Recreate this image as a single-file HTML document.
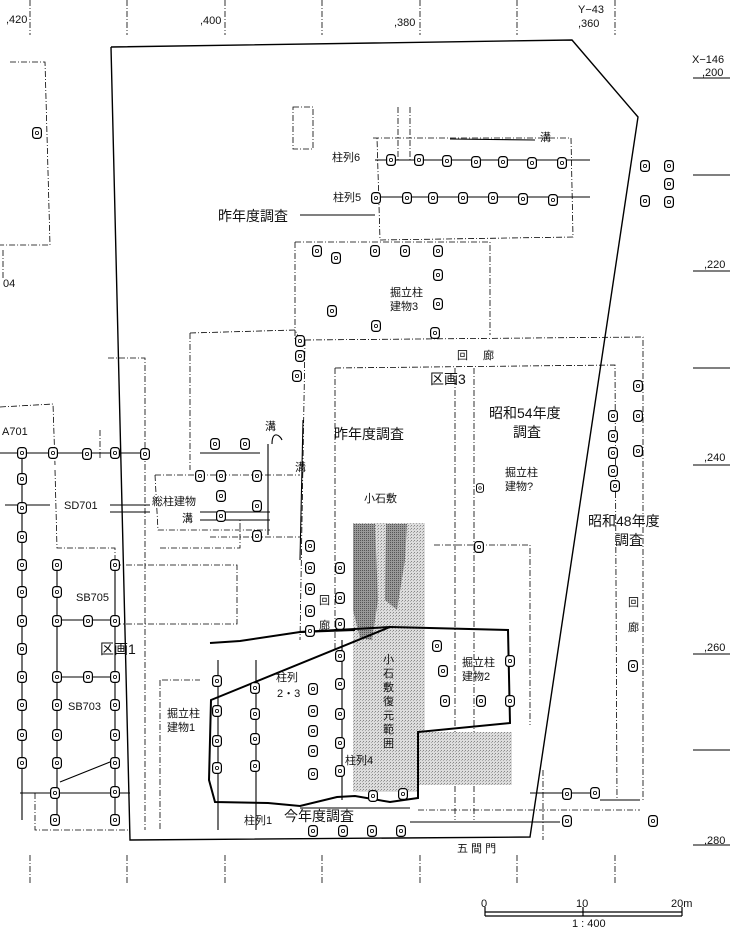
<!DOCTYPE html>
<html><head><meta charset="utf-8"><style>
html,body{margin:0;padding:0;background:#fff;}
svg{display:block;}
text{font-family:"Liberation Sans","Noto Sans CJK JP",sans-serif;fill:#111;}
.s{font-size:11px;}
.l{font-size:14px;}
</style></head><body>
<svg width="740" height="930" viewBox="0 0 740 930" xmlns="http://www.w3.org/2000/svg">
<defs>
<pattern id="st" width="3" height="3" patternUnits="userSpaceOnUse"><rect width="3" height="3" fill="#ddd"/><rect width="1" height="1" fill="#888"/><rect x="2" y="1" width="1" height="1" fill="#aaa"/></pattern>
<pattern id="dk" width="2" height="2" patternUnits="userSpaceOnUse"><rect width="2" height="2" fill="#999"/><rect width="1" height="1" fill="#555"/></pattern>
<symbol id="p" viewBox="0 0 10 12" overflow="visible"><rect x="0.6" y="0.6" width="8.8" height="10.8" rx="3" fill="#fff" stroke="#000" stroke-width="1.2"/><circle cx="5" cy="6" r="1.6" fill="none" stroke="#000" stroke-width="0.8"/></symbol>
</defs>
<g stroke="#000" fill="none" stroke-width="0.8" stroke-dasharray="6,2,1,2">
<!-- grid verticals -->
<line x1="30" y1="0" x2="30" y2="35"/><line x1="127" y1="0" x2="127" y2="35"/><line x1="225" y1="0" x2="225" y2="35"/><line x1="322" y1="0" x2="322" y2="35"/><line x1="420" y1="0" x2="420" y2="35"/><line x1="517" y1="0" x2="517" y2="35"/><line x1="615" y1="0" x2="615" y2="35"/>
<line x1="30" y1="855" x2="30" y2="885"/><line x1="127" y1="855" x2="127" y2="885"/><line x1="225" y1="855" x2="225" y2="885"/><line x1="322" y1="855" x2="322" y2="885"/><line x1="420" y1="855" x2="420" y2="885"/><line x1="517" y1="855" x2="517" y2="885"/><line x1="615" y1="855" x2="615" y2="885"/>
<!-- left structures -->
<polyline points="10,62 45,62 50,245 0,245"/>
<line x1="3" y1="250" x2="3" y2="280"/>
<polyline points="0,407 53,404 55,465"/>
<polyline points="55,470 57,548 115,548 115,565"/>
<polyline points="160,548 240,548 240,520"/>
<polyline points="108,358 145,358 145,830"/>
<line x1="100" y1="430" x2="100" y2="460"/>
<!-- centre upper -->
<rect x="293" y="107" width="20" height="42"/>
<line x1="398" y1="107" x2="398" y2="160"/><line x1="410" y1="107" x2="410" y2="160"/>
<polyline points="373,138 571,138 573,237 380,240 377,138"/>
<polyline points="295,242 490,242 490,335"/>
<line x1="295" y1="242" x2="295" y2="340"/>
<polyline points="190,333 295,330 300,340"/>
<line x1="190" y1="333" x2="190" y2="470"/>
<!-- 回廊 -->
<polyline points="305,340 643,337 643,800"/>
<polyline points="335,368 615,365 617,800"/>
<line x1="335" y1="368" x2="335" y2="650"/>
<line x1="305" y1="340" x2="300" y2="640"/>
<line x1="455" y1="368" x2="455" y2="820"/>
<line x1="474" y1="368" x2="474" y2="820"/>
<polyline points="155,475 300,475"/>
<polyline points="155,475 158,530 270,530"/>
<polyline points="210,537 300,537"/>
<polyline points="115,565 237,565 237,624 115,624"/>
<polyline points="162,680 200,680"/>
<line x1="160" y1="680" x2="160" y2="830"/>
<polyline points="434,545 530,545 530,725"/>
<polyline points="418,810 640,810"/>
<line x1="543" y1="770" x2="543" y2="840"/>
<polyline points="35,793 35,830 130,830"/>
</g>
<!-- right grid ticks -->
<g stroke="#000" stroke-width="1">
<line x1="693" y1="78" x2="730" y2="78"/><line x1="693" y1="175" x2="730" y2="175"/><line x1="693" y1="271" x2="730" y2="271"/><line x1="693" y1="368" x2="730" y2="368"/><line x1="693" y1="465" x2="730" y2="465"/><line x1="693" y1="654" x2="730" y2="654"/><line x1="693" y1="750" x2="730" y2="750"/><line x1="693" y1="845" x2="730" y2="845"/>
</g>
<!-- gray stone pavement -->
<polygon points="353,523 425,523 425,732 512,732 512,785 418,785 418,792 353,792" fill="url(#st)"/>
<polygon points="353,524 375,524 378,600 372,640 360,638 353,610" fill="url(#dk)"/>
<polygon points="386,524 407,524 405,560 397,610 385,600" fill="url(#dk)"/>
<!-- main boundary -->
<polyline points="111,47 572,40 638,117 530,837 130,840 111,47" fill="none" stroke="#000" stroke-width="1.4"/>
<!-- this year's survey thick outline -->
<path d="M210,643 L240,641 L300,632 M300,632 L355,630 M390,627 L508,630 L510,723 L418,732 L418,798 L390,802 L355,796 L337,797 L300,806 L268,803 L215,802 L209,780 L211,700 Z" fill="none" stroke="#000" stroke-width="2"/>
<line x1="300" y1="632" x2="390" y2="627" stroke="#000" stroke-width="2"/>
<!-- 溝 lines -->
<g stroke="#000" fill="none" stroke-width="1.1">
<path d="M450,139 L535,140"/>
<path d="M268,444 L268,535 M272,444 C272,430 280,435 282,440"/>
<path d="M303,420 L300,560"/>
<path d="M200,512 L270,512 M200,520 L270,520"/>
<path d="M5,505 L50,505 M110,505 L150,505 M110,512 L150,512"/>
<line x1="375" y1="160" x2="590" y2="160"/>
<line x1="375" y1="197" x2="590" y2="197"/>
<line x1="300" y1="215" x2="375" y2="215"/>
<line x1="0" y1="453" x2="145" y2="453"/>
<line x1="200" y1="453" x2="260" y2="453"/>
<line x1="55" y1="620" x2="115" y2="620"/>
<line x1="55" y1="677" x2="115" y2="677"/>
<line x1="300" y1="808" x2="410" y2="808"/>
<line x1="22" y1="453" x2="22" y2="820"/>
<line x1="57" y1="565" x2="57" y2="820"/>
<line x1="115" y1="565" x2="115" y2="820"/>
<line x1="218" y1="660" x2="218" y2="830"/>
<line x1="256" y1="660" x2="256" y2="830"/>
<line x1="342" y1="640" x2="342" y2="800"/>
<line x1="20" y1="793" x2="130" y2="793"/>
<line x1="60" y1="782" x2="115" y2="760"/>
<line x1="530" y1="793" x2="600" y2="793"/>
<line x1="600" y1="800" x2="640" y2="800"/>
<line x1="410" y1="822" x2="560" y2="822"/>
</g>
<!-- postholes -->
<g>
<use href="#p" x="386" y="154" width="10" height="12"/><use href="#p" x="414" y="154" width="10" height="12"/><use href="#p" x="442" y="155" width="10" height="12"/><use href="#p" x="471" y="156" width="10" height="12"/><use href="#p" x="498" y="156" width="10" height="12"/><use href="#p" x="527" y="157" width="10" height="12"/><use href="#p" x="557" y="157" width="10" height="12"/>
<use href="#p" x="371" y="192" width="10" height="12"/><use href="#p" x="402" y="192" width="10" height="12"/><use href="#p" x="428" y="192" width="10" height="12"/><use href="#p" x="458" y="192" width="10" height="12"/><use href="#p" x="488" y="192" width="10" height="12"/><use href="#p" x="518" y="193" width="10" height="12"/><use href="#p" x="548" y="194" width="10" height="12"/>
<use href="#p" x="664" y="160" width="10" height="12"/><use href="#p" x="664" y="178" width="10" height="12"/><use href="#p" x="664" y="196" width="10" height="12"/><use href="#p" x="640" y="195" width="10" height="12"/><use href="#p" x="640" y="160" width="10" height="12"/>
<use href="#p" x="32" y="127" width="10" height="12"/>
<use href="#p" x="312" y="245" width="10" height="12"/><use href="#p" x="331" y="252" width="10" height="12"/><use href="#p" x="370" y="245" width="10" height="12"/><use href="#p" x="400" y="245" width="10" height="12"/><use href="#p" x="433" y="245" width="10" height="12"/><use href="#p" x="433" y="269" width="10" height="12"/><use href="#p" x="433" y="298" width="10" height="12"/><use href="#p" x="327" y="305" width="10" height="12"/><use href="#p" x="371" y="320" width="10" height="12"/><use href="#p" x="430" y="327" width="10" height="12"/>
<use href="#p" x="295" y="335" width="10" height="12"/><use href="#p" x="295" y="350" width="10" height="12"/><use href="#p" x="292" y="370" width="10" height="12"/>
<use href="#p" x="633" y="380" width="10" height="12"/><use href="#p" x="608" y="410" width="10" height="12"/><use href="#p" x="633" y="410" width="10" height="12"/><use href="#p" x="608" y="430" width="10" height="12"/><use href="#p" x="608" y="447" width="10" height="12"/><use href="#p" x="633" y="445" width="10" height="12"/><use href="#p" x="608" y="465" width="10" height="12"/><use href="#p" x="610" y="480" width="10" height="12"/>
<use href="#p" x="17" y="447" width="10" height="12"/><use href="#p" x="48" y="447" width="10" height="12"/><use href="#p" x="82" y="448" width="10" height="12"/><use href="#p" x="110" y="447" width="10" height="12"/><use href="#p" x="140" y="448" width="10" height="12"/>
<use href="#p" x="17" y="473" width="10" height="12"/><use href="#p" x="17" y="502" width="10" height="12"/><use href="#p" x="17" y="531" width="10" height="12"/><use href="#p" x="17" y="559" width="10" height="12"/><use href="#p" x="17" y="586" width="10" height="12"/><use href="#p" x="17" y="615" width="10" height="12"/><use href="#p" x="17" y="643" width="10" height="12"/><use href="#p" x="17" y="671" width="10" height="12"/><use href="#p" x="17" y="699" width="10" height="12"/><use href="#p" x="17" y="729" width="10" height="12"/><use href="#p" x="17" y="757" width="10" height="12"/>
<use href="#p" x="52" y="559" width="10" height="12"/><use href="#p" x="52" y="586" width="10" height="12"/><use href="#p" x="52" y="615" width="10" height="12"/><use href="#p" x="52" y="671" width="10" height="12"/><use href="#p" x="52" y="699" width="10" height="12"/><use href="#p" x="52" y="729" width="10" height="12"/><use href="#p" x="52" y="757" width="10" height="12"/><use href="#p" x="50" y="787" width="10" height="12"/><use href="#p" x="50" y="814" width="10" height="12"/>
<use href="#p" x="110" y="559" width="10" height="12"/><use href="#p" x="110" y="615" width="10" height="12"/><use href="#p" x="110" y="671" width="10" height="12"/><use href="#p" x="110" y="699" width="10" height="12"/><use href="#p" x="110" y="729" width="10" height="12"/><use href="#p" x="110" y="757" width="10" height="12"/><use href="#p" x="110" y="786" width="10" height="12"/><use href="#p" x="110" y="814" width="10" height="12"/>
<use href="#p" x="83" y="615" width="10" height="12"/><use href="#p" x="83" y="671" width="10" height="12"/>
<use href="#p" x="210" y="438" width="10" height="12"/><use href="#p" x="240" y="438" width="10" height="12"/><use href="#p" x="216" y="470" width="10" height="12"/><use href="#p" x="216" y="490" width="10" height="12"/><use href="#p" x="216" y="510" width="10" height="12"/><use href="#p" x="252" y="470" width="10" height="12"/><use href="#p" x="252" y="500" width="10" height="12"/><use href="#p" x="252" y="530" width="10" height="12"/><use href="#p" x="195" y="470" width="10" height="12"/>
<use href="#p" x="305" y="540" width="10" height="12"/><use href="#p" x="305" y="562" width="10" height="12"/><use href="#p" x="305" y="583" width="10" height="12"/><use href="#p" x="305" y="605" width="10" height="12"/><use href="#p" x="305" y="625" width="10" height="12"/><use href="#p" x="335" y="562" width="10" height="12"/><use href="#p" x="335" y="592" width="10" height="12"/><use href="#p" x="335" y="618" width="10" height="12"/>
<use href="#p" x="335" y="650" width="10" height="12"/><use href="#p" x="335" y="678" width="10" height="12"/><use href="#p" x="335" y="708" width="10" height="12"/><use href="#p" x="335" y="737" width="10" height="12"/><use href="#p" x="335" y="765" width="10" height="12"/>
<use href="#p" x="308" y="683" width="10" height="12"/><use href="#p" x="308" y="705" width="10" height="12"/><use href="#p" x="308" y="725" width="10" height="12"/><use href="#p" x="308" y="745" width="10" height="12"/><use href="#p" x="308" y="768" width="10" height="12"/>
<use href="#p" x="212" y="675" width="10" height="12"/><use href="#p" x="212" y="705" width="10" height="12"/><use href="#p" x="212" y="735" width="10" height="12"/><use href="#p" x="212" y="762" width="10" height="12"/>
<use href="#p" x="250" y="682" width="10" height="12"/><use href="#p" x="250" y="708" width="10" height="12"/><use href="#p" x="250" y="733" width="10" height="12"/><use href="#p" x="250" y="760" width="10" height="12"/>
<use href="#p" x="432" y="640" width="10" height="12"/><use href="#p" x="438" y="665" width="10" height="12"/><use href="#p" x="440" y="695" width="10" height="12"/><use href="#p" x="476" y="695" width="10" height="12"/><use href="#p" x="505" y="655" width="10" height="12"/><use href="#p" x="505" y="695" width="10" height="12"/>
<use href="#p" x="368" y="790" width="10" height="12"/><use href="#p" x="398" y="788" width="10" height="12"/>
<use href="#p" x="308" y="825" width="10" height="12"/><use href="#p" x="338" y="825" width="10" height="12"/><use href="#p" x="367" y="825" width="10" height="12"/><use href="#p" x="396" y="825" width="10" height="12"/>
<use href="#p" x="562" y="788" width="10" height="12"/><use href="#p" x="590" y="787" width="10" height="12"/><use href="#p" x="562" y="815" width="10" height="12"/><use href="#p" x="648" y="815" width="10" height="12"/><use href="#p" x="628" y="660" width="10" height="12"/>
<use href="#p" x="474" y="540" width="10" height="14"/><use href="#p" x="476" y="480" width="8" height="16"/>
</g>
<!-- scale bar -->
<g stroke="#000" fill="none" stroke-width="1.2">
<line x1="485" y1="912" x2="682" y2="912"/><line x1="485" y1="916" x2="682" y2="916"/>
<line x1="485" y1="907" x2="485" y2="916"/><line x1="583" y1="907" x2="583" y2="916"/><line x1="682" y1="907" x2="682" y2="916"/>
</g>
<!-- text -->
<text class="s" x="6" y="23">,420</text><text class="s" x="200" y="24">,400</text><text class="s" x="394" y="26">,380</text>
<text class="s" x="578" y="13">Y−43</text><text class="s" x="578" y="27">,360</text>
<text class="s" x="692" y="63">X−146</text><text class="s" x="702" y="76">,200</text>
<text class="s" x="704" y="268">,220</text><text class="s" x="704" y="461">,240</text><text class="s" x="704" y="651">,260</text><text class="s" x="704" y="844">,280</text>
<text class="s" x="3" y="287">04</text><text class="s" x="2" y="435">A701</text>
<text class="s" x="332" y="161">柱列6</text><text class="s" x="333" y="201">柱列5</text><text class="s" x="540" y="141">溝</text>
<text class="l" x="218" y="221">昨年度調査</text>
<text class="s" x="390" y="296">掘立柱</text><text class="s" x="390" y="310">建物3</text>
<text class="s" x="457" y="359">回</text><text class="s" x="483" y="359">廊</text>
<text class="l" x="430" y="384">区画3</text>
<text class="l" x="489" y="418">昭和54年度</text><text class="l" x="513" y="437">調査</text>
<text class="l" x="334" y="439">昨年度調査</text>
<text class="s" x="265" y="430">溝</text><text class="s" x="295" y="471">溝</text>
<text class="s" x="505" y="476">掘立柱</text><text class="s" x="505" y="490">建物?</text>
<text class="s" x="152" y="505">総柱建物</text><text class="s" x="182" y="522">溝</text>
<text class="s" x="64" y="509">SD701</text>
<text class="s" x="364" y="502">小石敷</text>
<text class="l" x="588" y="526">昭和48年度</text><text class="l" x="615" y="545">調査</text>
<text class="s" x="76" y="601">SB705</text>
<text class="s" x="319" y="604">回</text><text class="s" x="319" y="629">廊</text>
<text class="s" x="628" y="606">回</text><text class="s" x="628" y="631">廊</text>
<text class="l" x="100" y="654">区画1</text>
<text class="s" x="276" y="681">柱列</text><text class="s" x="277" y="697">2・3</text>
<text class="s" x="462" y="666">掘立柱</text><text class="s" x="462" y="680">建物2</text>
<text class="s" x="383" y="663">小</text><text class="s" x="383" y="677">石</text><text class="s" x="383" y="691">敷</text><text class="s" x="383" y="705">復</text><text class="s" x="383" y="719">元</text><text class="s" x="383" y="733">範</text><text class="s" x="383" y="747">囲</text>
<text class="s" x="68" y="710">SB703</text>
<text class="s" x="167" y="717">掘立柱</text><text class="s" x="167" y="731">建物1</text>
<text class="s" x="345" y="764">柱列4</text>
<text class="l" x="284" y="821">今年度調査</text>
<text class="s" x="244" y="824">柱列1</text>
<text class="s" x="457" y="852">五 間 門</text>
<text class="s" x="481" y="907">0</text><text class="s" x="576" y="907">10</text><text class="s" x="671" y="907">20m</text>
<text class="s" x="572" y="927">1 : 400</text>
</svg>
</body></html>
